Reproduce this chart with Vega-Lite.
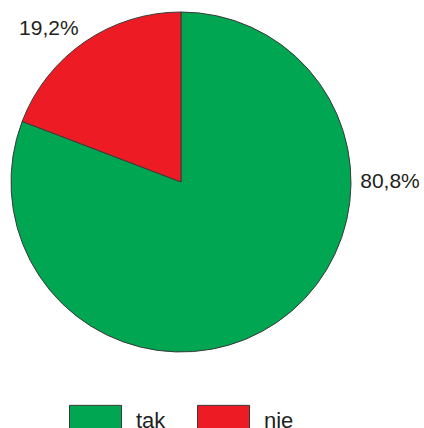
{
  "$schema": "https://vega.github.io/schema/vega-lite/v6.json",
  "width": 362,
  "height": 364,
  "padding": {"left": 0, "top": 0, "right": 62, "bottom": 64},
  "autosize": {"type": "none"},
  "background": "white",
  "config": {"view": {"stroke": null}, "font": "Liberation Sans"},
  "data": {"values": [
    {"kategoria": "tak", "procent": 80.8, "etykieta": "80,8%"},
    {"kategoria": "nie", "procent": 19.2, "etykieta": "19,2%"}
  ]},
  "layer": [
    {
      "mark": {"type": "arc", "outerRadius": 170, "stroke": "#3a3a3a", "strokeWidth": 1},
      "encoding": {
        "theta": {"field": "procent", "type": "quantitative", "stack": true},
        "order": {"field": "kategoria", "sort": "descending"},
        "color": {
          "field": "kategoria", "type": "nominal",
          "scale": {"domain": ["tak", "nie"], "range": ["#00A651", "#ED1C24"]},
          "legend": {
            "title": null, "orient": "none", "direction": "horizontal",
            "legendX": 69, "legendY": 394,
            "symbolType": "M-1,-0.6H1V0.6H-1Z", "symbolSize": 2704,
            "symbolStrokeColor": "#3a3a3a", "symbolStrokeWidth": 1,
            "symbolOpacity": 1,
            "labelFontSize": 22, "labelColor": "#231F20", "labelOffset": 14,
            "columnPadding": 29, "labelFont": "Liberation Sans"
          }
        }
      }
    },
    {
      "transform": [{"filter": "datum.kategoria === 'tak'"}],
      "mark": {"type": "text", "theta": 1.5708, "radius": 209, "fontSize": 21, "color": "#231F20", "align": "center", "baseline": "middle"},
      "encoding": {"text": {"field": "etykieta"}}
    },
    {
      "transform": [{"filter": "datum.kategoria === 'nie'"}],
      "mark": {"type": "text", "theta": 5.57, "radius": 202, "fontSize": 21, "color": "#231F20", "align": "center", "baseline": "middle"},
      "encoding": {"text": {"field": "etykieta"}}
    }
  ]
}
